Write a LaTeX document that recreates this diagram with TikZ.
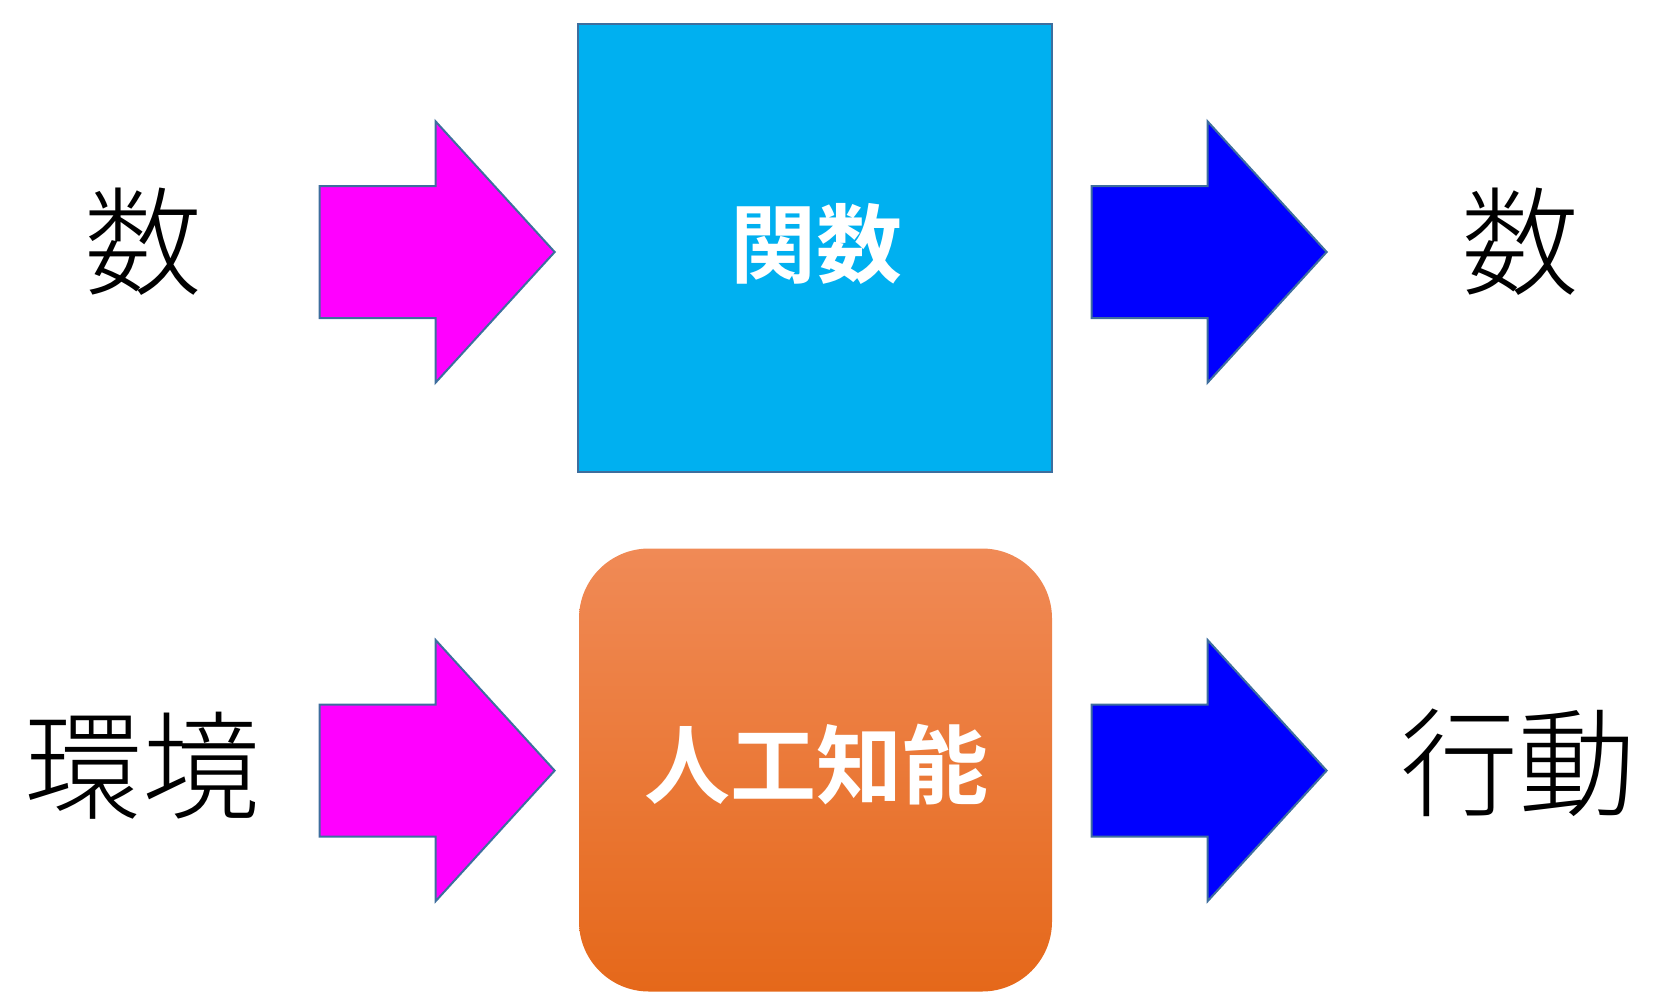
\documentclass[tikz,border=0pt]{standalone}
\usepackage{fontspec}
\newfontfamily\cjk[BoldFont={* Bold}]{Noto Sans CJK JP}
\newfontfamily\cjklight{Noto Sans CJK JP Light}
\usepackage{tikz}
\usetikzlibrary{arrows.meta,positioning,shapes.arrows}
\usepackage{xcolor}
\definecolor{edge}{HTML}{3E6E9E}
\definecolor{sky}{HTML}{00B0F0}
\definecolor{magenta}{HTML}{FF00FF}
\definecolor{pureblue}{HTML}{0000FF}
\definecolor{orangetop}{HTML}{F08A56}
\definecolor{orangebot}{HTML}{E5681A}
\tikzset{
  word/.style={font=\cjklight\fontsize{118}{130}\selectfont,inner sep=0pt,text=black},
  label/.style={font=\cjk\bfseries\fontsize{86}{96}\selectfont,inner sep=0pt,text=white},
  blockarrow/.style={single arrow,draw=edge,line width=2pt,inner xsep=0pt,inner ysep=65pt,
    text height=0pt,text depth=0pt,minimum height=235pt,single arrow head extend=64.5pt,
    single arrow tip angle=95.3,single arrow head indent=0pt,anchor=tip},
  inarrow/.style={blockarrow,fill=magenta},
  outarrow/.style={blockarrow,fill=pureblue},
  funcbox/.style={draw=edge,line width=2pt,fill=sky,minimum width=474pt,minimum height=448pt},
  aibox/.style={rounded corners=70pt,top color=orangetop,bottom color=orangebot,minimum width=473pt,minimum height=443pt}
}
\begin{document}
\begin{tikzpicture}[x=1pt,y=-1pt]
\useasboundingbox (0,0) rectangle (1680,1004);
% top row
\node[funcbox] (func) at (815,247.5) {};
\node[label] (funclabel) at (816,244) {関数};
\node[inarrow] (in1) at (556,252) {};
\node[outarrow] (out1) at (1328,252) {};
\node[word] (num1) at (143.6,242) {数};
\node[word] (num2) at (1520,242) {数};
% bottom row
\node[aibox] (ai) at (815.5,770) {};
\node[label] (ailabel) at (816,765) {人工知能};
\node[inarrow] (in2) at (556,770.6) {};
\node[outarrow] (out2) at (1328,770.6) {};
\node[word] (env) at (142,766) {環境};
\node[word] (act) at (1518,763) {行動};
\end{tikzpicture}
\end{document}
